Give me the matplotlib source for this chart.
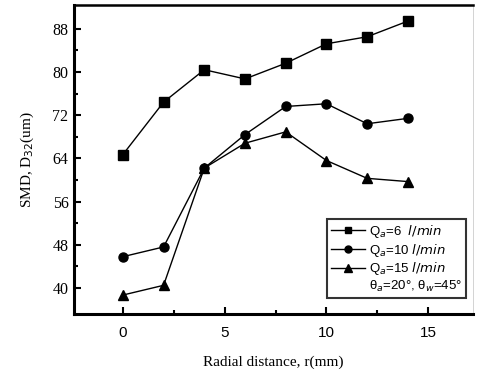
import matplotlib
matplotlib.use("Agg")
import matplotlib.pyplot as plt
from matplotlib.lines import Line2D

r = [0, 2, 4, 6, 8, 10, 12, 14]
smd_q6 = [64.7, 74.4, 80.4, 78.7, 81.6, 85.2, 86.5, 89.4]
smd_q10 = [45.8, 47.6, 62.2, 68.4, 73.6, 74.1, 70.4, 71.4]
smd_q15 = [38.7, 40.5, 62.2, 66.8, 68.9, 63.6, 60.3, 59.7]
labels = [r"Q$_{a}$=6  $\it{l/min}$", r"Q$_{a}$=10 $\it{l/min}$", r"Q$_{a}$=15 $\it{l/min}$"]
note = r"θ$_{a}$=20°, θ$_{w}$=45°"
xticks = [0, 5, 10, 15]
yticks = [40, 48, 56, 64, 72, 80, 88]

fig = plt.figure(figsize=(4.79, 3.76), dpi=100)
ax = fig.add_axes([0.1545, 0.165, 0.833, 0.822])

ax.plot(r, smd_q6, color="black", lw=1.0, marker="s", ms=6.5)
ax.plot(r, smd_q10, color="black", lw=1.0, marker="o", ms=6.5)
ax.plot(r, smd_q15, color="black", lw=1.0, marker="^", ms=7)

ax.set_xlim(-2.4, 17.2)
ax.set_ylim(35.2, 92.4)
ax.set_xticks(xticks)
ax.set_xticks([2.5, 7.5, 12.5], minor=True)
ax.set_yticks(yticks)
ax.set_yticks([44, 52, 60, 68, 76, 84], minor=True)
ax.tick_params(which="both", direction="in", width=1.5, top=False, right=False)
ax.tick_params(which="major", length=5)
ax.tick_params(which="minor", length=3)
ax.tick_params(axis="y", labelsize=11.5, pad=4)
ax.tick_params(axis="x", labelsize=11, pad=9)
for t in ax.get_yticklabels():
    t.set_family("Liberation Serif")
for t in ax.get_xticklabels():
    t.set_family("Liberation Sans")

for s in ["left", "bottom"]:
    ax.spines[s].set_linewidth(2.2)
ax.spines["top"].set_linewidth(1.8)
ax.spines["right"].set_linewidth(0.6)
ax.spines["right"].set_color("#cccccc")

ax.set_xlabel("Radial distance, r(mm)", family="Liberation Serif", fontsize=11, labelpad=11)
ax.set_ylabel(r"SMD, D$_{32}$(um)", family="Liberation Serif", fontsize=11, labelpad=12)

handles = [
    Line2D([], [], color="black", lw=1.0, marker="s", ms=5),
    Line2D([], [], color="black", lw=1.0, marker="o", ms=5),
    Line2D([], [], color="black", lw=1.0, marker="^", ms=6),
    Line2D([], [], color="none"),
]
leg = ax.legend(handles, labels + [note], loc="lower right",
                bbox_to_anchor=(0.982, 0.052), frameon=True, fancybox=False,
                edgecolor="black", prop={"family": "Liberation Sans", "size": 9.5},
                handlelength=2.6, handletextpad=0.3, borderpad=0.3,
                labelspacing=0.12, borderaxespad=0.0)
leg.get_frame().set_linewidth(1.5)

fig.savefig("out.png", dpi=100)
